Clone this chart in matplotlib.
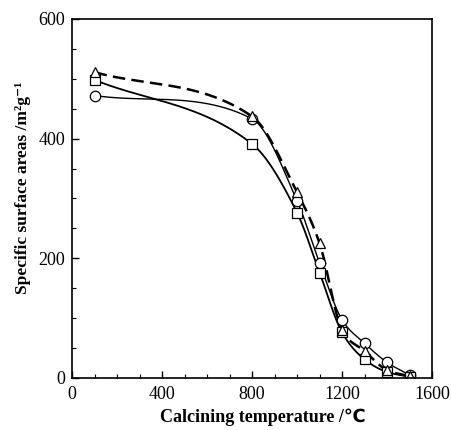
import numpy as np
import matplotlib
matplotlib.use("Agg")
import matplotlib.pyplot as plt

temps = [100, 800, 1000, 1100, 1200, 1300, 1400, 1500]
circle_vals = [472, 433, 296, 192, 97, 58, 26, 5]
square_vals = [498, 391, 276, 176, 76, 31, 10, 2]
triangle_vals = [511, 437, 310, 225, 80, 45, 13, 3]

x_ticks = [0, 400, 800, 1200, 1600]
y_ticks = [0, 200, 400, 600]

plt.rcParams['font.family'] = ['Liberation Serif', 'DejaVu Sans']


def smooth(x, y, n=200):
    """Cubic Hermite curve through the points, tangents = geometric mean of secants."""
    x = np.asarray(x, float); y = np.asarray(y, float)
    h = np.diff(x); d = np.diff(y) / h
    m = np.zeros_like(y)
    for k in range(1, len(x) - 1):
        if d[k - 1] * d[k] > 0:
            m[k] = np.sign(d[k]) * np.sqrt(d[k - 1] * d[k])
    m[0] = d[0]; m[-1] = d[-1]
    xs, ys = [], []
    for k in range(len(x) - 1):
        t = np.linspace(0, 1, n)
        h00 = 2*t**3 - 3*t**2 + 1; h10 = t**3 - 2*t**2 + t
        h01 = -2*t**3 + 3*t**2; h11 = t**3 - t**2
        xs.append(x[k] + t*h[k])
        ys.append(h00*y[k] + h10*h[k]*m[k] + h01*y[k+1] + h11*h[k]*m[k+1])
    return np.concatenate(xs), np.concatenate(ys)


fig = plt.figure(figsize=(4.51, 4.30), dpi=100)
ax = fig.add_axes([0.160, 0.121, 0.798, 0.835])

xs, ys = smooth(temps, circle_vals)
ax.plot(xs, ys, color='black', lw=1.0, ls='-')
xs, ys = smooth(temps, square_vals)
ax.plot(xs, ys, color='black', lw=1.3, ls='-')
xs, ys = smooth(temps, triangle_vals)
ax.plot(xs, ys, color='black', lw=1.8, ls=(0, (5, 2.5)))

mk = dict(ls='none', mfc='white', mec='black', mew=0.9, ms=7.5)
ax.plot(temps, circle_vals, marker='o', **mk)
ax.plot(temps, square_vals, marker='s', **mk)
ax.plot(temps, triangle_vals, marker='^', **mk)

ax.set_xlim(0, 1600)
ax.set_ylim(0, 600)
ax.set_xticks(x_ticks)
ax.set_yticks(y_ticks)
ax.set_xticks(np.arange(0, 1601, 100), minor=True)
ax.set_yticks(np.arange(0, 601, 50), minor=True)
ax.tick_params(which='both', direction='in', top=False, right=False, labelsize=13)
ax.tick_params(axis='x', which='major', pad=6)
ax.tick_params(axis='y', which='major', pad=5)
ax.tick_params(which='major', length=5, width=1)
ax.tick_params(which='minor', length=3, width=0.8)
for s in ax.spines.values():
    s.set_linewidth(1.2)

ax.set_xlabel('Calcining temperature /℃', fontsize=13, fontweight='bold', labelpad=3)
ax.xaxis.set_label_coords(0.53, -0.085)
ax.set_ylabel('Specific surface areas /m²g⁻¹', fontsize=12.5,
              fontweight='bold', labelpad=5)
ax.yaxis.set_label_coords(-0.115, 0.53)

fig.savefig('out.png', dpi=100)
